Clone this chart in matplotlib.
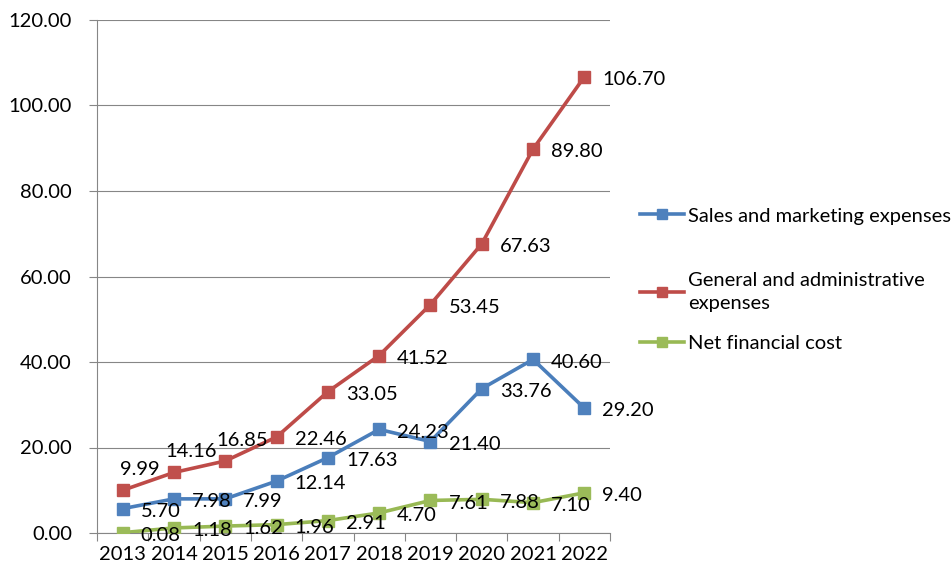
import matplotlib
matplotlib.use("Agg")
import matplotlib.pyplot as plt
from matplotlib.ticker import FixedLocator, FormatStrFormatter
from matplotlib.lines import Line2D

years = ["2013", "2014", "2015", "2016", "2017", "2018", "2019", "2020", "2021", "2022"]
sales = [5.70, 7.98, 7.99, 12.14, 17.63, 24.23, 21.40, 33.76, 40.60, 29.20]
gna = [9.99, 14.16, 16.85, 22.46, 33.05, 41.52, 53.45, 67.63, 89.80, 106.70]
netfin = [0.08, 1.18, 1.62, 1.96, 2.91, 4.70, 7.61, 7.88, 7.10, 9.40]
series_names = ["Sales and marketing expenses", "General and administrative\nexpenses", "Net financial cost"]
yticks = [0, 20, 40, 60, 80, 100, 120]

plt.rcParams['font.family'] = ['Lato', 'DejaVu Sans']
FS = 14.5

fig = plt.figure(figsize=(9.51, 5.75), dpi=100)
ax = fig.add_axes([97/951, 1-533/575, (610-97)/951, (533-20)/575])

x = list(range(len(years)))
styles = [
    (sales, "#4A7EBB", "#4F81BD"),
    (gna, "#BE4B48", "#C0504D"),
    (netfin, "#98B954", "#9BBB59"),
]
handles = []
for vals, lc, mc in styles:
    ln, = ax.plot(x, vals, color=lc, lw=2.6, marker='s', ms=8.5, mfc=mc, mec=mc, zorder=3)
    handles.append(ln)

# data labels
for vals in (sales, netfin):
    for xi, v in zip(x, vals):
        ax.annotate(f"{v:.2f}", (xi, v), xytext=(13, -2), textcoords='offset points',
                    ha='left', va='center', fontsize=FS, color='black', zorder=5)
for i, (xi, v) in enumerate(zip(x, gna)):
    if i < 3:
        ax.annotate(f"{v:.2f}", (xi, v), xytext=(12, 15), textcoords='offset points',
                    ha='center', va='center', fontsize=FS, color='black', zorder=5)
    else:
        ax.annotate(f"{v:.2f}", (xi, v), xytext=(13, -2), textcoords='offset points',
                    ha='left', va='center', fontsize=FS, color='black', zorder=5)

ax.set_xlim(-0.5, len(years) - 0.5)
ax.set_ylim(0, 120)
ax.yaxis.set_major_locator(FixedLocator(yticks))
ax.yaxis.set_major_formatter(FormatStrFormatter('%.2f'))
ax.set_xticks(x)
ax.set_xticklabels(years)
ax.set_xticks([i - 0.5 for i in range(len(years) + 1)], minor=True)
ax.tick_params(axis='x', which='major', length=0, pad=9, labelsize=FS, colors='black')
ax.tick_params(axis='x', which='minor', length=6, width=0.8, color='#868686', direction='out')
ax.tick_params(axis='y', which='major', length=6, width=0.8, color='#868686', pad=12,
               labelsize=FS, labelcolor='black', direction='out')
ax.grid(axis='y', color='#868686', lw=0.8, zorder=0)
ax.set_axisbelow(True)
for s in ('top', 'right'):
    ax.spines[s].set_visible(False)
for s in ('left', 'bottom'):
    ax.spines[s].set_color('#868686')
    ax.spines[s].set_linewidth(0.8)
ax.set_facecolor('white')

# legend: one entry per slot
ypos = [1-216/575, 1-292/575, 1-343/575]
for h, name, yp in zip(handles, series_names, ypos):
    lh = Line2D([], [], color=h.get_color(), lw=2.6, marker='s', ms=7,
                mfc=h.get_markerfacecolor(), mec=h.get_markeredgecolor())
    lg = fig.legend([lh], [name], loc='center left', bbox_to_anchor=(640/951, yp),
                    frameon=False, fontsize=FS, handlelength=2.2, handletextpad=0.2,
                    borderpad=0, borderaxespad=0)
    for t in lg.get_texts():
        t.set_color('black')
        t.set_linespacing(1.45)

fig.savefig("out.png", dpi=100, facecolor='white')
